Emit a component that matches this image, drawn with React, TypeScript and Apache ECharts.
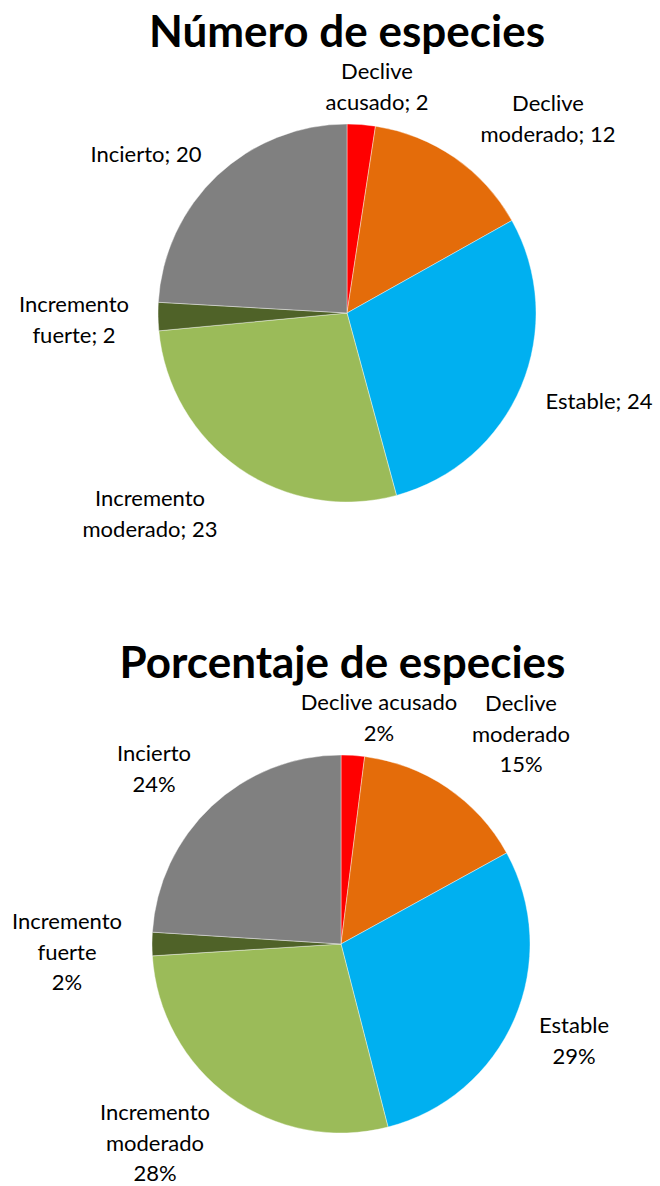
import React, { useEffect, useRef } from "react";
import * as echarts from "echarts";

// ---- data ----
const categories = ["Declive acusado", "Declive moderado", "Estable", "Incremento moderado", "Incremento fuerte", "Incierto"];
const countValues = [2, 12, 24, 23, 2, 20];
const percentValues = [2, 15, 29, 28, 2, 24];
const countLabelNames = ["Declive\nacusado", "Declive\nmoderado", "Estable", "Incremento\nmoderado", "Incremento\nfuerte", "Incierto"];
const percentLabelNames = ["Declive acusado", "Declive\nmoderado", "Estable", "Incremento\nmoderado", "Incremento\nfuerte", "Incierto"];
const titles = ["Número de especies", "Porcentaje de especies"];

// ---- styles / layout ----
const colors = ["#FF0000", "#E46C0A", "#00B0F0", "#9BBB59", "#4F6228", "#808080"];
const FONT = "Lato, 'Open Sans', sans-serif";
const PIE1 = { cx: 347, cy: 313, r: 189 };
const PIE2 = { cx: 341, cy: 944, r: 189 };
const TITLE_POS = [[347, 29.5], [342.5, 660.5]];
const labelPos1 = [[377, 86], [548, 118], [599, 400], [150, 513], [74, 319], [146, 153]];
const labelPos2 = [[379, 717], [521, 733], [574, 1040], [155, 1142], [67, 951], [154, 768]];

function pieSeries(values: number[], fmt: (i: number) => string, pie: any, pos: number[][]) {
  return {
    type: "pie",
    center: [pie.cx, pie.cy],
    radius: pie.r,
    startAngle: 90,
    clockwise: true,
    avoidLabelOverlap: false,
    data: values.map((v, i) => ({ name: categories[i], value: v, itemStyle: { color: colors[i] } })),
    itemStyle: { borderColor: "#ffffff", borderWidth: 0.4 },
    label: {
      show: true,
      position: "outside",
      formatter: (p: any) => fmt(p.dataIndex),
      fontFamily: FONT,
      fontSize: 22,
      lineHeight: 30.5,
      color: "#000",
      align: "center",
    },
    labelLine: { show: false },
    labelLayout: (params: any) => ({
      x: pos[params.dataIndex][0],
      y: pos[params.dataIndex][1],
      align: "center",
      verticalAlign: "middle",
    }),
    emphasis: { disabled: true },
  };
}

export default function App() {
  const ref = useRef<HTMLDivElement>(null);
  useEffect(() => {
    if (!ref.current) return;
    const chart = echarts.init(ref.current, undefined, { renderer: "svg" });
    chart.setOption({
      animation: false,
      backgroundColor: "#ffffff",
      graphic: titles.map((t, i) => ({
        type: "text",
        x: TITLE_POS[i][0],
        y: TITLE_POS[i][1],
        style: {
          text: t,
          fontFamily: FONT,
          fontSize: 44,
          lineHeight: 38,
          fontWeight: "bold",
          fill: "#000",
          textAlign: "center",
          textVerticalAlign: "middle",
        },
      })),
      series: [
        pieSeries(countValues, (i) => `${countLabelNames[i]}; ${countValues[i]}`, PIE1, labelPos1),
        pieSeries(percentValues, (i) => `${percentLabelNames[i]}\n${percentValues[i]}%`, PIE2, labelPos2),
      ],
    });
    return () => chart.dispose();
  }, []);
  return <div ref={ref} style={{ position: "absolute", left: 0, top: 0, width: 660, height: 1186 }} />;
}
